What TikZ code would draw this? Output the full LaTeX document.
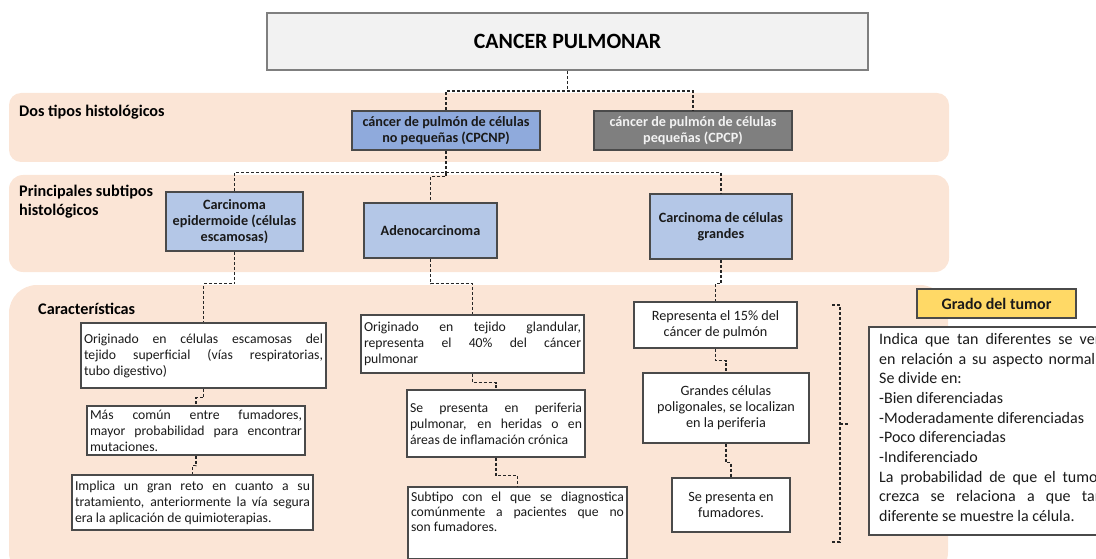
\documentclass[tikz,border=0pt]{standalone}
\usepackage{fontspec}
\setmainfont{Carlito}
\usetikzlibrary{calc}
\definecolor{bandc}{HTML}{FBE5D6}
\definecolor{blueA}{HTML}{8FAADC}
\definecolor{blueB}{HTML}{B4C7E7}
\definecolor{grayC}{HTML}{7F7F7F}
\definecolor{titlefill}{HTML}{F2F2F2}
\definecolor{goldc}{HTML}{FFD966}
\definecolor{edgec}{HTML}{4A4A4A}
\definecolor{inkc}{HTML}{1A1A1A}
\hyphenpenalty=10000
\exhyphenpenalty=10000
\begin{document}
\begin{tikzpicture}[x=1pt,y=-1pt,
  band/.style={fill=bandc},
  heading/.style={font=\fontsize{16.2}{18.5}\selectfont\bfseries, text=black, inner sep=0pt, align=left},
  bluebox/.style={draw=edgec, line width=1.6pt, fill=blueB, align=center, inner sep=2pt,
     font=\fontsize{14.2}{16}\selectfont\bfseries, text=inkc},
  wbox/.style={draw=edgec, line width=1.4pt, fill=white, inner xsep=3pt, inner ysep=2pt,
     font=\fontsize{13.7}{16}\selectfont, text=inkc},
  jbox/.style={wbox, align=justify},
  cbox/.style={wbox, align=center, font=\fontsize{14.2}{16}\selectfont},
  conn/.style={draw=black!85, line width=1.3pt, dash pattern=on 3pt off 2pt}
]
\useasboundingbox (0,0) rectangle (1096,559);
% bands
\fill[band, rounded corners=12pt] (9,93) rectangle (949,162);
\fill[band, rounded corners=14pt] (9,175) rectangle (949,272);
\fill[band, rounded corners=28pt] (9,285) rectangle (948,580);

% headings
\node[heading, anchor=base west] (h1) at (19,117) {Dos tipos histológicos};
\node[heading, anchor=north west] (h2) at (19,185) {Principales subtipos\\histológicos};
\node[heading, anchor=base west] (h3) at (38,314) {Características};

% title
\node[draw=grayC, line width=2pt, fill=titlefill, minimum width=601pt, minimum height=57pt,
  font=\fontsize{21.8}{24}\selectfont\bfseries, text=black] (title) at (567.5,41.5) {CANCER PULMONAR};

% level 1
\node[bluebox, fill=blueA, minimum width=188pt, minimum height=39pt] (cpcnp) at (446,130.5)
  {cáncer de pulmón de células\\no pequeñas (CPCNP)};
\node[bluebox, fill=grayC, text=white!95!black, minimum width=198pt, minimum height=39pt] (cpcp) at (693,130.5)
  {cáncer de pulmón de células\\pequeñas (CPCP)};

% level 2
\node[bluebox, minimum width=137pt, minimum height=59pt] (epid) at (234.5,221.5)
  {Carcinoma\\epidermoide (células\\escamosas)};
\node[bluebox, minimum width=133pt, minimum height=55pt] (adeno) at (430.5,230.5)
  {Adenocarcinoma};
\node[bluebox, minimum width=142pt, minimum height=65pt] (grandes) at (721,226.5)
  {Carcinoma de células\\grandes};

% characteristics
\node[jbox, text width=239pt, minimum height=65pt] (e1) at (203.5,355.5)
  {Originado en células escamosas del\linebreak tejido superficial (vías respiratorias,\linebreak tubo digestivo)};
\node[jbox, text width=212pt, minimum height=49pt] (e2) at (196,430.5)
  {Más común entre fumadores,\linebreak mayor probabilidad para encontrar\linebreak mutaciones.};
\node[jbox, text width=235pt, minimum height=55pt] (e3) at (192.5,502.5)
  {Implica un gran reto en cuanto a su\linebreak tratamiento, anteriormente la vía segura\linebreak era la aplicación de quimioterapias.};

\node[jbox, text width=217pt, minimum height=58pt] (a1) at (472.5,344)
  {Originado en tejido glandular,\linebreak representa el 40\% del cáncer\linebreak pulmonar};
\node[jbox, text width=172pt, minimum height=67pt] (a2) at (496,423.5)
  {Se presenta en periferia\linebreak pulmonar, en heridas o en\linebreak áreas de inflamación crónica};
\node[wbox, minimum width=219pt, minimum height=72pt] (a3) at (517.5,523) {};
\node[anchor=north, inner sep=0pt, align=justify, text width=213pt, text=inkc,
  font=\fontsize{13.7}{15}\selectfont] (a3t) at ($(a3.north)+(0,5)$)
  {Subtipo con el que se diagnostica\linebreak comúnmente a pacientes que no\linebreak son fumadores.};

\node[cbox, minimum width=163pt, minimum height=46pt] (g1) at (715.5,325)
  {Representa el 15\% del\\cáncer de pulmón};
\node[cbox, minimum width=166pt, minimum height=70pt] (g2) at (726,408)
  {Grandes células\\poligonales, se localizan\\en la periferia};
\node[cbox, minimum width=118pt, minimum height=54pt] (g3) at (731,505)
  {Se presenta en\\fumadores.};

% grado del tumor
\node[draw=edgec, line width=1.4pt, fill=goldc, minimum width=159pt, minimum height=29pt,
  font=\fontsize{16}{18}\selectfont\bfseries, text=inkc] (grado) at (996.5,303.5) {Grado del tumor};
\draw[draw=edgec, line width=1.2pt, fill=white] (869,327) rectangle (1130,535);
\node[anchor=north west, inner sep=0pt, align=left, text=inkc,
  font=\fontsize{16}{19.7}\selectfont] (gtext) at (879,333)
  {\makebox[224pt][s]{Indica que tan diferentes se ven}\\
   \makebox[216pt][s]{en relación a su aspecto normal}\\
   Se divide en:\\
   -Bien diferenciadas\\
   -Moderadamente diferenciadas\\
   -Poco diferenciadas\\
   -Indiferenciado\\
   \makebox[224pt][s]{La probabilidad de que el tumor}\\
   \makebox[224pt][s]{crezca se relaciona a que tan}\\
   diferente se muestre la célula.};

% bracket
\coordinate (bt) at (832,305);
\coordinate (bb) at (832,542);
\coordinate (bm) at (848,424);
\draw[conn] (bt) -- ++(8,0) coordinate (btc) -- (btc |- bb) -- (bb);
\draw[conn] (btc |- bm) -- (bm);

% connectors
\draw[conn] (title.south) -- ++(0,20) coordinate (b1);
\draw[conn] (cpcnp.north) |- (b1) -| (cpcp.north);
\draw[conn] (cpcnp.south) -- ++(0,22) coordinate (b2);
\draw[conn] (epid.north) |- (b2) -| (grandes.north);
\draw[conn] (b2) -- ++(0,4) -| (adeno.north);

\draw[conn] (epid.south) -- ++(0,32) -| (e1.north);
\draw[conn] (e1.south) -- ++(0,9) -| (e2.north);
\draw[conn] (e2.south) -- ++(0,10) -| (e3.north);

\draw[conn] (adeno.south) -- ++(0,25) -| (a1.north);
\draw[conn] (a1.south) -- ++(0,9) -| (a2.north);
\draw[conn] (a2.south) -- ++(0,18) -| (a3.north);

\draw[conn] (grandes.south) -- ++(0,24) -| (g1.north);
\draw[conn] (g1.south) -- ++(0,12) -| (g2.north);
\draw[conn] (g2.south) -- ++(0,19) -| (g3.north);
\end{tikzpicture}
\end{document}
